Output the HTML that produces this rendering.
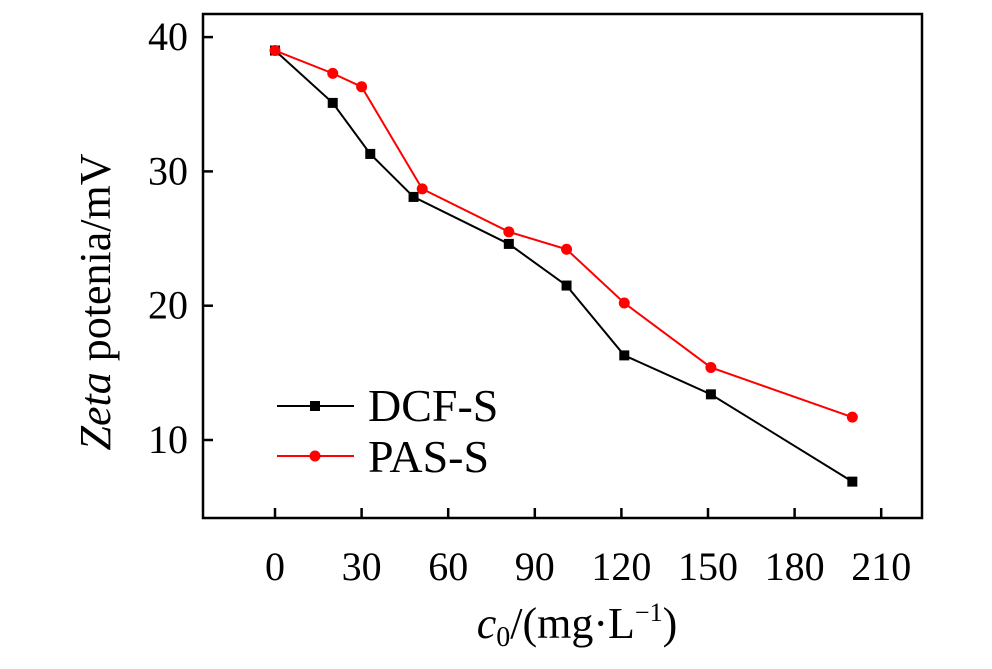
<!DOCTYPE html>
<html><head><meta charset="utf-8"><style>
body{margin:0;background:#fff;}
svg text{font-family:"Liberation Serif",serif;fill:#000;}
</style></head><body>
<svg id="chart" width="992" height="664" xmlns="http://www.w3.org/2000/svg"></svg>
<script>
const xTicks=[0,30,60,90,120,150,180,210];
const yTicks=[10,20,30,40];
const dcfX=[0,20,33,48,81,101,121,151,200];
const dcfY=[39,35.1,31.3,28.1,24.6,21.5,16.3,13.4,6.9];
const pasX=[0,20,30,51,81,101,121,151,200];
const pasY=[39,37.3,36.3,28.7,25.5,24.2,20.2,15.4,11.7];
const NS='http://www.w3.org/2000/svg';
const svg=document.getElementById('chart');
const L=203,R=922,T=14,B=518;
const sx=v=>275+v*(86.6/30);
const sy=v=>440-(v-10)*(134.3/10);
function mk(tag,attrs,parent){const e=document.createElementNS(NS,tag);for(const k in attrs)e.setAttribute(k,attrs[k]);(parent||svg).appendChild(e);return e;}
const frame=mk('rect',{x:L,y:T,width:R-L,height:B-T,fill:'none',stroke:'#000','stroke-width':2.5});


xTicks.forEach(t=>{
 const l=mk('line',{x1:sx(t),x2:sx(t),y1:B,y2:B-10,stroke:'#000','stroke-width':2.5});
 
 
 const tx=mk('text',{x:sx(t),y:580,'font-size':40,'text-anchor':'middle'});tx.textContent=t;
 
 
});
yTicks.forEach(t=>{
 const l=mk('line',{x1:L,x2:L+10,y1:sy(t),y2:sy(t),stroke:'#000','stroke-width':2.5});
 
 
 const tx=mk('text',{x:188,y:sy(t)+13,'font-size':40,'text-anchor':'end'});tx.textContent=t;
 
 
});
function series(xs,ys,color,sq,name){
 const pts=xs.map((x,i)=>sx(x)+','+sy(ys[i])).join(' ');
 const pl=mk('polyline',{points:pts,fill:'none',stroke:color,'stroke-width':2});
 
 
 xs.forEach((x,i)=>{
  const m=sq?mk('rect',{x:sx(x)-5,y:sy(ys[i])-5,width:10,height:10,fill:color}):mk('circle',{cx:sx(x),cy:sy(ys[i]),r:5.5,fill:color});
  
  
 });
}
series(dcfX,dcfY,'#000',true,'dcf-s');
series(pasX,pasY,'#f00',false,'pas-s');
const lg=mk('g',{});


mk('line',{x1:277,x2:354,y1:406,y2:406,stroke:'#000','stroke-width':2},lg);
mk('rect',{x:310,y:401,width:10,height:10,fill:'#000'},lg);
const t1=mk('text',{x:368,y:421,'font-size':46},lg);t1.textContent='DCF-S';
mk('line',{x1:277,x2:354,y1:456,y2:456,stroke:'#f00','stroke-width':2},lg);
mk('circle',{cx:315,cy:456,r:5.5,fill:'#f00'},lg);
const t2=mk('text',{x:368,y:472,'font-size':46},lg);t2.textContent='PAS-S';
const xt=mk('text',{x:577,y:638,'font-size':44,'text-anchor':'middle'});
xt.innerHTML='<tspan font-style="italic">c</tspan><tspan font-size="28" dy="8">0</tspan><tspan dy="-8">/(mg·L</tspan><tspan font-size="26" dy="-17">−1</tspan><tspan dy="17">)</tspan>';


const yt=mk('text',{x:0,y:0,'font-size':44,'text-anchor':'middle',transform:'translate(110,302) rotate(-90)'});
yt.innerHTML='<tspan font-style="italic">Zeta</tspan> potenia/mV';


</script>
</body></html>
